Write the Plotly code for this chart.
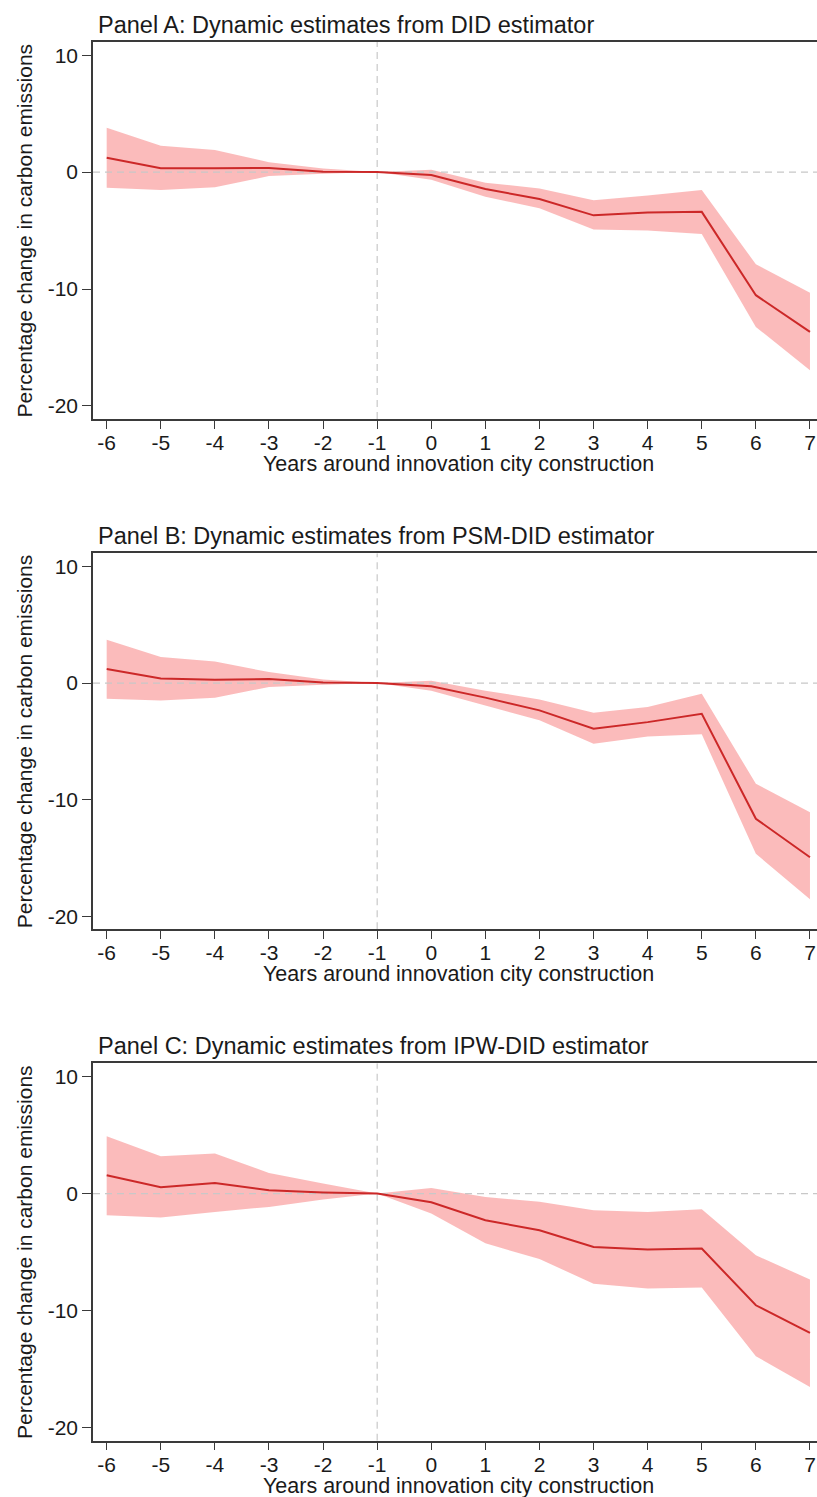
import plotly.graph_objects as go

# ---------------- data ----------------
years = [-6, -5, -4, -3, -2, -1, 0, 1, 2, 3, 4, 5, 6, 7]
x_tick_labels = ["-6", "-5", "-4", "-3", "-2", "-1", "0", "1", "2", "3", "4", "5", "6", "7"]
y_tick_vals = [-20, -10, 0, 10]
y_tick_labels = ["-20", "-10", "0", "10"]

panel_titles = [
    "Panel A: Dynamic estimates from DID estimator",
    "Panel B: Dynamic estimates from PSM-DID estimator",
    "Panel C: Dynamic estimates from IPW-DID estimator",
]

did_est = [1.22, 0.34, 0.34, 0.35, 0.03, 0.0, -0.25, -1.45, -2.3, -3.7, -3.45, -3.4, -10.53, -13.67]
did_hi = [3.8, 2.25, 1.9, 0.85, 0.3, 0.0, 0.2, -0.9, -1.4, -2.4, -2.0, -1.54, -7.88, -10.33]
did_lo = [-1.34, -1.54, -1.3, -0.34, -0.15, 0.0, -0.65, -2.1, -3.1, -4.9, -5.0, -5.3, -13.24, -16.95]

psm_est = [1.2, 0.4, 0.29, 0.35, 0.05, 0.0, -0.28, -1.25, -2.34, -3.92, -3.35, -2.63, -11.64, -14.94]
psm_hi = [3.72, 2.23, 1.86, 0.94, 0.3, 0.0, 0.2, -0.65, -1.4, -2.55, -2.06, -0.91, -8.64, -11.07]
psm_lo = [-1.34, -1.49, -1.26, -0.34, -0.15, 0.0, -0.65, -1.9, -3.2, -5.2, -4.58, -4.4, -14.64, -18.55]

ipw_est = [1.56, 0.54, 0.91, 0.28, 0.1, 0.0, -0.75, -2.28, -3.14, -4.56, -4.79, -4.7, -9.55, -11.91]
ipw_hi = [4.9, 3.19, 3.42, 1.76, 0.85, 0.0, 0.48, -0.29, -0.71, -1.43, -1.57, -1.34, -5.27, -7.35]
ipw_lo = [-1.86, -2.05, -1.57, -1.14, -0.5, 0.0, -1.7, -4.25, -5.6, -7.7, -8.12, -8.03, -13.9, -16.53]

estimates = [did_est, psm_est, ipw_est]
uppers = [did_hi, psm_hi, ipw_hi]
lowers = [did_lo, psm_lo, ipw_lo]

REF_YEAR = -1
ZERO = 0
X_RANGE = [-6.253, 7.13]
Y_RANGE = [-21.12, 11.13]

x_title = "Years around innovation city construction"
y_title = "Percentage change in carbon emissions"

# ---------------- layout geometry ----------------
W, H = 817, 1497
plot_left_px = 93
panels_px = [(42, 419), (553.3, 929.3), (1063.3, 1440.7)]  # (top, bottom)

FONT = "Liberation Sans, Arial, Helvetica, sans-serif"
AXIS_COLOR = "#3a3a3a"
TEXT_COLOR = "#1a1a1a"
BAND_COLOR = "rgba(248, 120, 120, 0.5)"
LINE_COLOR = "#cc2828"
REF_COLOR = "#c8c8c8"

fig = go.Figure()
annotations = []
layout_axes = {}

for i in range(3):
    sfx = "" if i == 0 else str(i + 1)
    xa, ya = "x" + sfx, "y" + sfx
    top, bot = panels_px[i]

    # CI band
    fig.add_trace(go.Scatter(x=years, y=uppers[i], mode="lines", line=dict(width=0),
                             xaxis=xa, yaxis=ya, showlegend=False, hoverinfo="skip"))
    fig.add_trace(go.Scatter(x=years, y=lowers[i], mode="lines", line=dict(width=0),
                             fill="tonexty", fillcolor=BAND_COLOR,
                             xaxis=xa, yaxis=ya, showlegend=False, hoverinfo="skip"))
    # reference lines
    fig.add_trace(go.Scatter(x=X_RANGE, y=[ZERO, ZERO], mode="lines",
                             line=dict(color=REF_COLOR, width=1.2, dash="7px,5px"),
                             xaxis=xa, yaxis=ya, showlegend=False, hoverinfo="skip"))
    fig.add_trace(go.Scatter(x=[REF_YEAR, REF_YEAR], y=Y_RANGE, mode="lines",
                             line=dict(color=REF_COLOR, width=1.2, dash="7px,5px"),
                             xaxis=xa, yaxis=ya, showlegend=False, hoverinfo="skip"))
    # point estimates
    fig.add_trace(go.Scatter(x=years, y=estimates[i], mode="lines",
                             line=dict(color=LINE_COLOR, width=2),
                             xaxis=xa, yaxis=ya, showlegend=False))

    layout_axes["xaxis" + sfx] = dict(
        domain=[plot_left_px / W, 1.0], range=X_RANGE, anchor=ya,
        tickmode="array", tickvals=years, ticktext=x_tick_labels,
        ticks="outside", ticklen=8, tickwidth=1.3, tickcolor=AXIS_COLOR,
        ticklabelstandoff=-4,
        showline=True, linecolor=AXIS_COLOR, linewidth=1.5, mirror=True,
        showgrid=False, zeroline=False,
        tickfont=dict(family=FONT, size=21, color=TEXT_COLOR),
    )
    layout_axes["yaxis" + sfx] = dict(
        domain=[1 - bot / H, 1 - top / H], range=Y_RANGE, anchor=xa,
        tickmode="array", tickvals=y_tick_vals, ticktext=y_tick_labels,
        ticks="outside", ticklen=9, tickwidth=1.3, tickcolor=AXIS_COLOR,
        showline=True, linecolor=AXIS_COLOR, linewidth=1.5,
        showgrid=False, zeroline=False,
        tickfont=dict(family=FONT, size=21, color=TEXT_COLOR),
    )

    # panel title
    annotations.append(dict(text=panel_titles[i], xref="paper", yref="paper",
                            x=96 / W, y=1 - (top - 17) / H, xanchor="left", yanchor="middle",
                            showarrow=False, font=dict(family=FONT, size=23.5, color=TEXT_COLOR)))
    # x axis title
    annotations.append(dict(text=x_title, xref="paper", yref="paper",
                            x=(plot_left_px + W) / 2 / W + 3 / W, y=1 - (bot + 45) / H,
                            xanchor="center", yanchor="middle",
                            showarrow=False, font=dict(family=FONT, size=21.5, color=TEXT_COLOR)))
    # y axis title
    annotations.append(dict(text=y_title, xref="paper", yref="paper",
                            x=24 / W, y=1 - (top + bot) / 2 / H,
                            xanchor="center", yanchor="middle", textangle=-90,
                            showarrow=False, font=dict(family=FONT, size=21, color=TEXT_COLOR)))

fig.update_layout(
    width=W, height=H,
    margin=dict(l=0, r=0, t=0, b=0),
    paper_bgcolor="white", plot_bgcolor="white",
    annotations=annotations,
    font=dict(family=FONT),
    **layout_axes,
)

fig.write_html(
    "out.html",
    config={"displayModeBar": False},
    post_script="document.body.style.margin='0';document.body.style.overflow='hidden';",
)
